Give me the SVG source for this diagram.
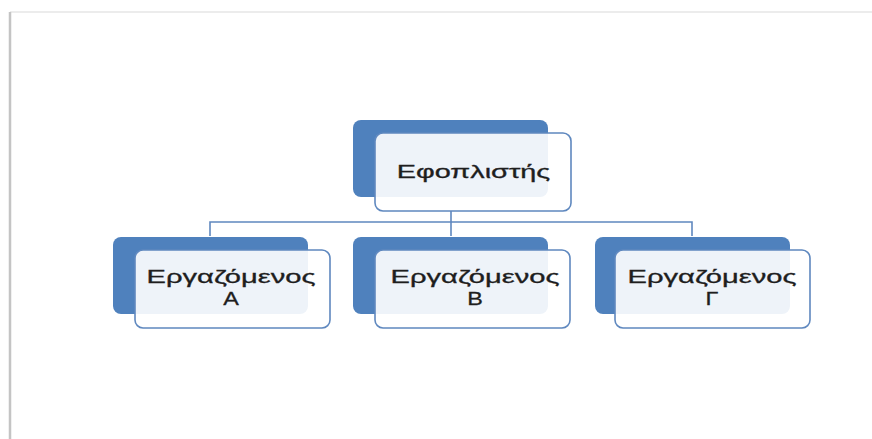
<svg xmlns="http://www.w3.org/2000/svg" width="872" height="439" viewBox="0 0 872 439">
<style>
.back{fill:#4f81bd;}
.front{fill:#ffffff;fill-opacity:0.9;stroke:#5f88bf;stroke-width:1.6;}
.lbl{font-family:"Liberation Sans","Open Sans",sans-serif;fill:#1e1e1e;stroke:#1e1e1e;stroke-width:0.3;text-anchor:middle;font-size:18px;}
.conn{fill:none;stroke:#5f88bf;stroke-width:1.6;}
</style>
<rect x="0" y="0" width="872" height="439" fill="#ffffff"/>
<g id="page">
<line x1="10" y1="12" x2="872" y2="12" stroke="#ececec" stroke-width="2"/>
<line x1="10" y1="12" x2="10" y2="439" stroke="#c4c4c4" stroke-width="2.5"/>
</g>
<g id="connectors">
<path class="conn" d="M451 211 V222 M210 236 V222 H692 V236 M451 222 V236"/>
</g>
<g id="node-top">
<rect class="back" x="353" y="120" width="195" height="77" rx="8"/>
<rect class="front" x="375" y="133" width="196" height="78" rx="8"/>
<g transform="translate(473.5,0) scale(1.3,1)"><text class="lbl" x="0" y="178" textLength="118" lengthAdjust="spacingAndGlyphs">Εφοπλιστής</text></g>
</g>
<g id="node-a">
<rect class="back" x="113" y="237" width="195" height="77" rx="8"/>
<rect class="front" x="135" y="250" width="195" height="78" rx="8"/>
<g transform="translate(231,0) scale(1.3,1)"><text class="lbl" x="0" y="283" textLength="130" lengthAdjust="spacingAndGlyphs">Εργαζόμενος</text><text class="lbl" x="0" y="305">Α</text></g>
</g>
<g id="node-b">
<rect class="back" x="353" y="237" width="195" height="77" rx="8"/>
<rect class="front" x="375" y="250" width="195" height="78" rx="8"/>
<g transform="translate(475,0) scale(1.3,1)"><text class="lbl" x="0" y="283" textLength="130" lengthAdjust="spacingAndGlyphs">Εργαζόμενος</text><text class="lbl" x="0" y="305">Β</text></g>
</g>
<g id="node-g">
<rect class="back" x="595" y="237" width="195" height="77" rx="8"/>
<rect class="front" x="615" y="250" width="195" height="78" rx="8"/>
<g transform="translate(712,0) scale(1.3,1)"><text class="lbl" x="0" y="283" textLength="130" lengthAdjust="spacingAndGlyphs">Εργαζόμενος</text><text class="lbl" x="0" y="305">Γ</text></g>
</g>
</svg>
